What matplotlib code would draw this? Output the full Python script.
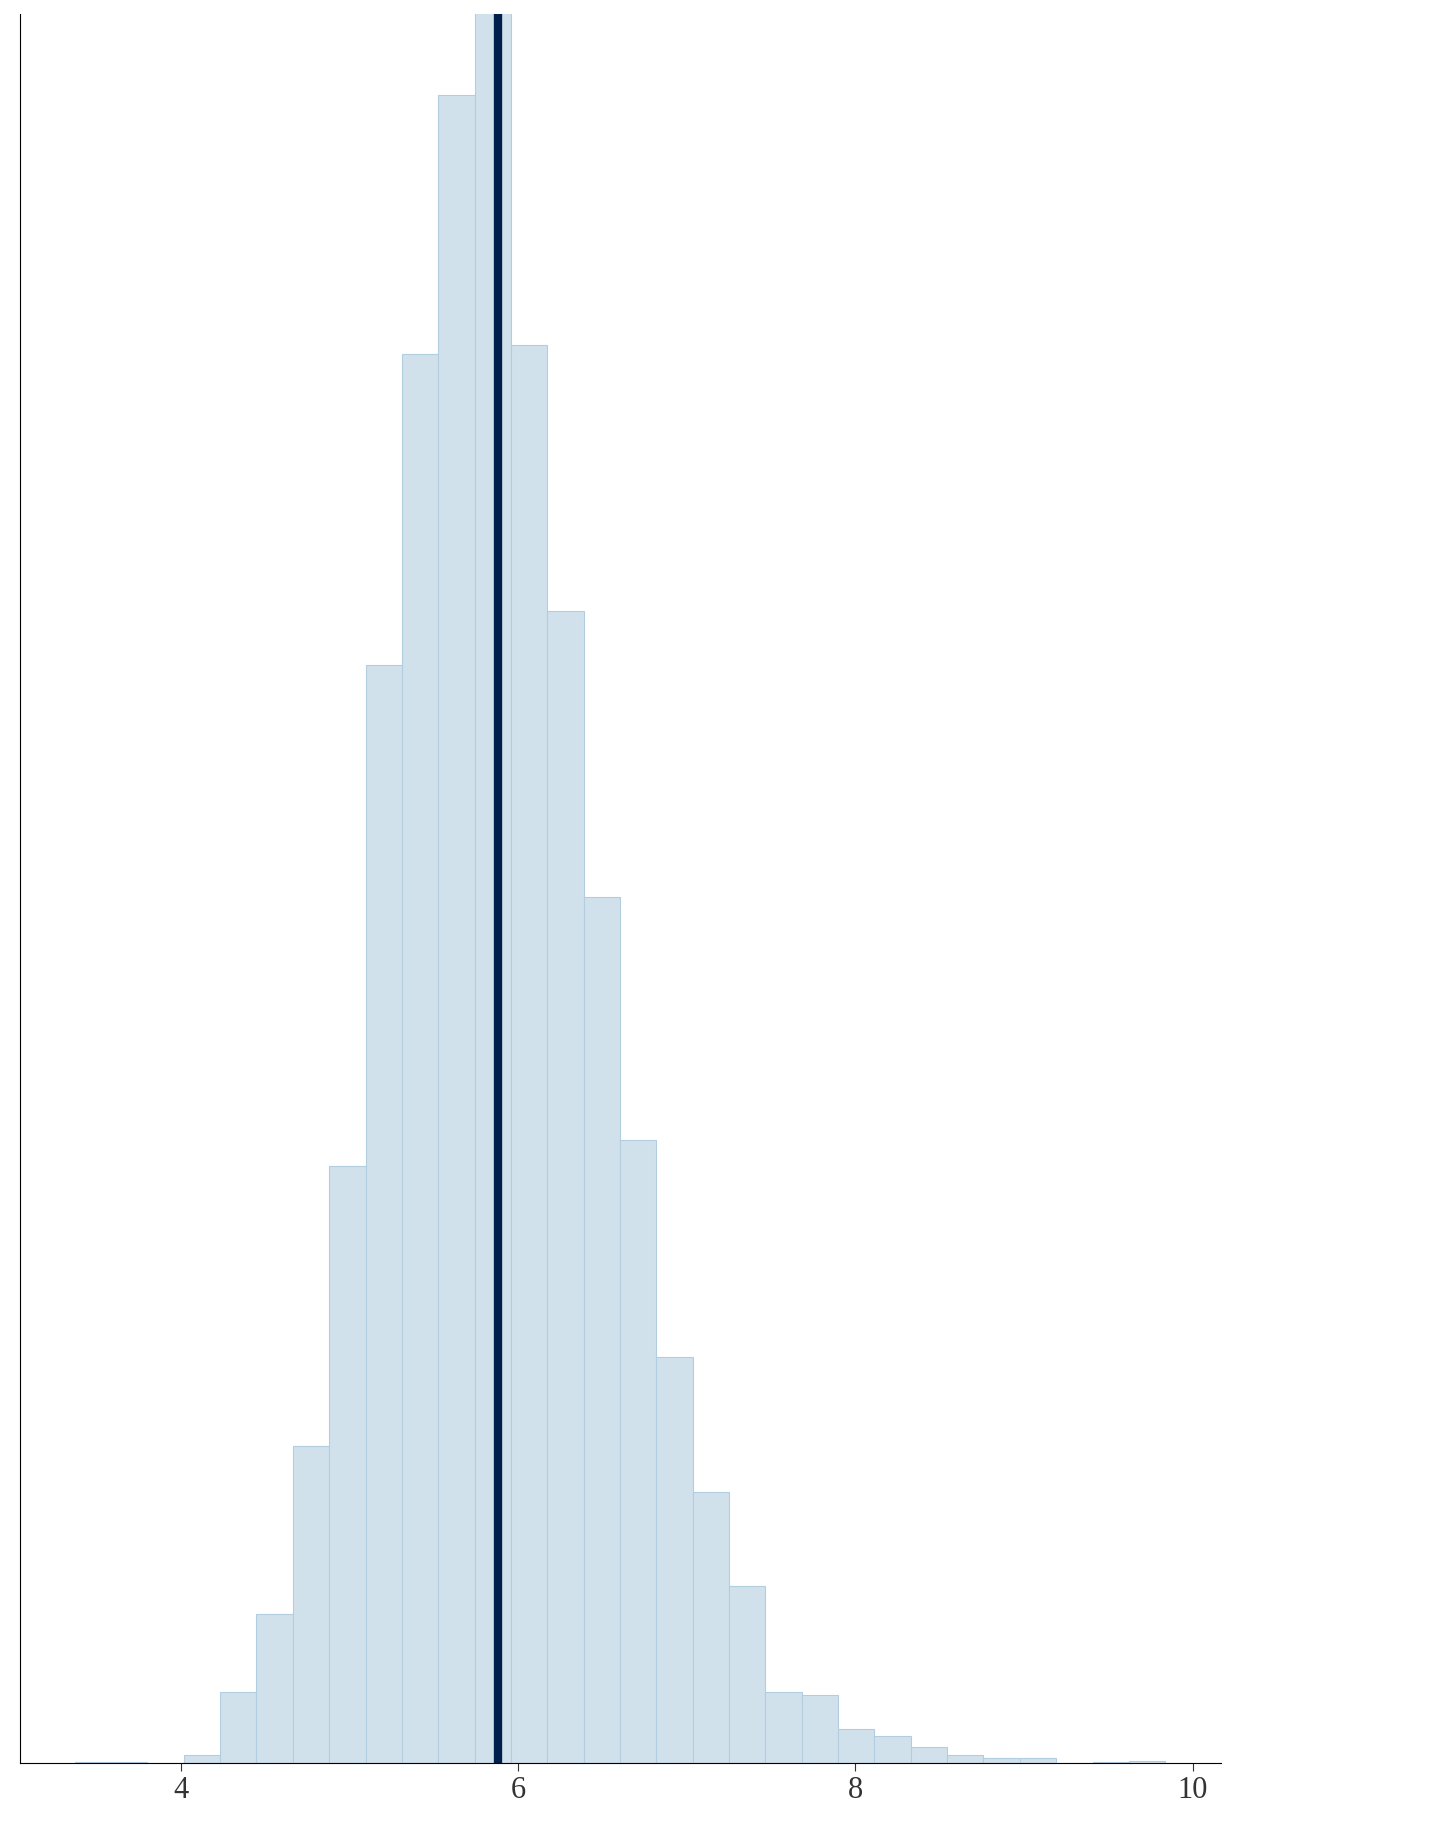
import matplotlib.pyplot as plt
import numpy as np

# histogram bins (left edge of first bin, bin width) and counts
first_edge = 3.367
bin_width = 0.2157
counts = [1, 1, 0, 7, 61, 128, 273, 514, 945, 1212, 1435, 1540, 1220, 991, 745,
          536, 349, 233, 152, 61, 58, 29, 23, 14, 7, 4, 4, 0, 1, 2]
mean_value = 5.876

edges = first_edge + bin_width * np.arange(len(counts) + 1)

fig = plt.figure(figsize=(14.53, 18.21), dpi=100)
ax = fig.add_axes([17 / 1250, 1 - 1517 / 1567, (1050 - 17) / 1250, (1517 - 12) / 1567])

ax.bar(edges[:-1], counts, width=bin_width, align='edge',
       color='#d1e1ec', edgecolor='#b3cde0', linewidth=0.8)
ax.axvline(mean_value, color='#011f4b', linewidth=6)

ax.set_xlim(3.041, 10.166)
ax.set_ylim(0, 1505)
ax.set_xticks([4, 6, 8, 10])
ax.set_yticks([])
ax.tick_params(axis='x', labelsize=22, colors='#333333', length=6)
for lab in ax.get_xticklabels():
    lab.set_family('Liberation Serif')
for s in ['top', 'right']:
    ax.spines[s].set_visible(False)

fig.savefig('out.png', dpi=100)
